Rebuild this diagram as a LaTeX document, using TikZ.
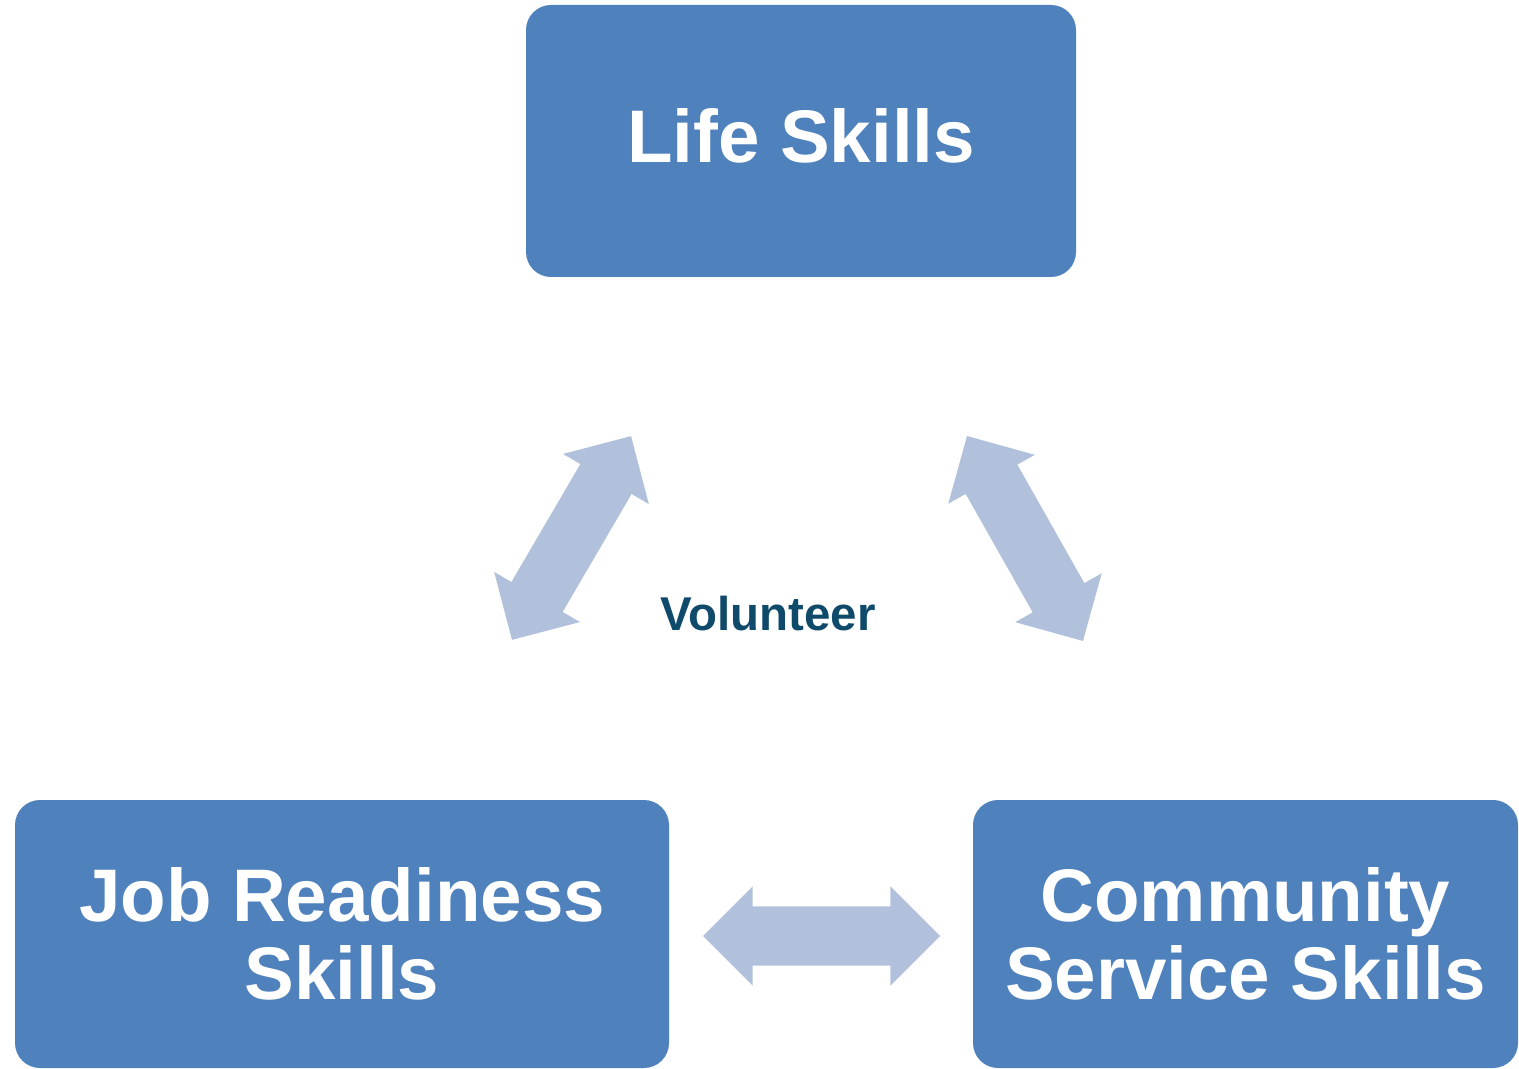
\documentclass[tikz,border=0pt]{standalone}
\usepackage{fontspec}
\setmainfont{Liberation Sans}
\usepackage{tikz}
\usetikzlibrary{shapes.arrows}
\definecolor{box_blue}{HTML}{4F81BD}
\definecolor{arrow_blue}{HTML}{B1C1DC}
\definecolor{dark_teal}{HTML}{0F4A6B}

\begin{document}
\begin{tikzpicture}[
        skillbox/.style={fill=box_blue, rounded corners=0.25cm, inner sep=0pt,
            text=white, align=center, font=\bfseries\fontsize{21.2}{22}\selectfont},
        linkarrow/.style={double arrow, fill=arrow_blue, inner xsep=0pt, inner ysep=0.29cm,
            minimum width=0.98cm, double arrow head extend=0.2cm}
    ]
        % Cadre de la page
        \useasboundingbox (0,0) rectangle (15.19,-10.69);
        \clip (0,0) rectangle (15.19,-10.69);
        % Cadres
        \node[skillbox, minimum width=5.50cm, minimum height=2.72cm, text depth=0.1cm] (life) at (8.01,-1.41) {Life Skills};
        \node[skillbox, minimum width=6.54cm, minimum height=2.68cm] (job) at (3.42,-9.34) {Job Readiness\\Skills};
        \node[skillbox, minimum width=5.45cm, minimum height=2.68cm] (community) at (12.455,-9.34) {Community\\Service Skills};
        % Centre
        \node[dark_teal, font=\bfseries\fontsize{13.5}{13.5}\selectfont] (volunteer) at (7.68,-6.14) {Volunteer};
        % Flèches
        \node[linkarrow, minimum height=2.36cm, rotate=59.7] (jobLife) at (5.715,-5.38) {};
        \node[linkarrow, minimum height=2.355cm, rotate=119.5] (lifeCommunity) at (10.25,-5.385) {};
        \node[linkarrow, minimum height=2.37cm] (jobCommunity) at (8.215,-9.36) {};
    \end{tikzpicture}
\end{document}
